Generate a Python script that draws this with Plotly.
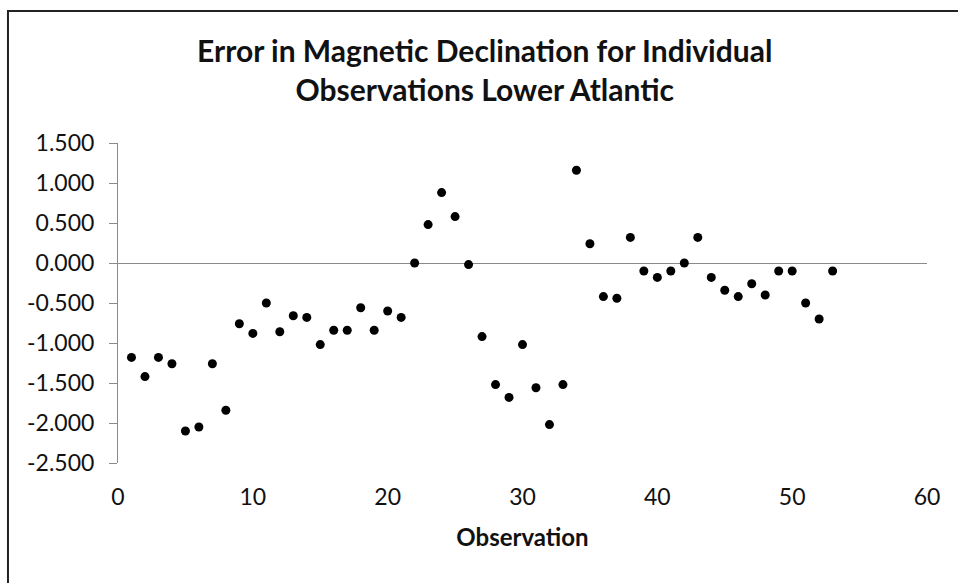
import plotly.graph_objects as go

observation = list(range(1, 54))
error = [
    -1.18, -1.42, -1.18, -1.26, -2.10, -2.05, -1.26, -1.84, -0.76, -0.88,
    -0.50, -0.86, -0.66, -0.68, -1.02, -0.84, -0.84, -0.56, -0.84, -0.60,
    -0.68, 0.00, 0.48, 0.88, 0.58, -0.02, -0.92, -1.52, -1.68, -1.02,
    -1.56, -2.02, -1.52, 1.16, 0.24, -0.42, -0.44, 0.32, -0.10, -0.18,
    -0.10, 0.00, 0.32, -0.18, -0.34, -0.42, -0.26, -0.40, -0.10, -0.10,
    -0.50, -0.70, -0.10,
]

y_tick_values = [1.5, 1.0, 0.5, 0.0, -0.5, -1.0, -1.5, -2.0, -2.5]
y_tick_labels = ["1.500", "1.000", "0.500", "0.000", "-0.500", "-1.000",
                 "-1.500", "-2.000", "-2.500"]

title_text = "Error in Magnetic Declination for Individual<br>Observations Lower Atlantic"
x_title = "Observation"

FONT = "Lato, 'Open Sans', sans-serif"

fig = go.Figure()
fig.add_trace(go.Scatter(
    x=observation, y=error, mode="markers",
    marker=dict(color="black", size=9),
    showlegend=False, hoverinfo="x+y",
))

fig.update_layout(
    width=958, height=583,
    margin=dict(l=118, r=31, t=143, b=120),
    paper_bgcolor="white", plot_bgcolor="white",
    font=dict(family=FONT, color="black"),
    title=dict(
        text=title_text, x=0.506, xanchor="center", xref="container",
        y=1 - 62 / 583, yanchor="middle", yref="container",
        font=dict(size=30, family=FONT, color="#111", weight="bold"),
    ),
    xaxis=dict(
        range=[0, 60], dtick=10, tick0=0,
        showgrid=False, zeroline=False, showline=False,
        ticks="", ticklabelstandoff=18,
        tickfont=dict(size=23, color="#111"),
        title=dict(text=x_title, font=dict(size=24, color="#111", weight="bold"), standoff=20),
    ),
    yaxis=dict(
        range=[-2.5, 1.5], tickmode="array",
        tickvals=y_tick_values, ticktext=y_tick_labels,
        showgrid=False,
        zeroline=True, zerolinecolor="#8a8a8a", zerolinewidth=1,
        showline=True, linecolor="#8a8a8a", linewidth=1,
        ticks="outside", ticklen=8, tickcolor="#8a8a8a",
        ticklabelstandoff=10,
        tickfont=dict(size=23, color="#111"),
    ),
    shapes=[dict(
        type="rect", xref="paper", yref="paper",
        x0=-0.136, x1=1.2, y0=-0.6, y1=1.4125,
        line=dict(color="#222", width=2), fillcolor="rgba(0,0,0,0)",
        layer="below",
    )],
)

fig.write_html("out.html", config={"displayModeBar": False},
               post_script="document.body.style.margin='0';")
